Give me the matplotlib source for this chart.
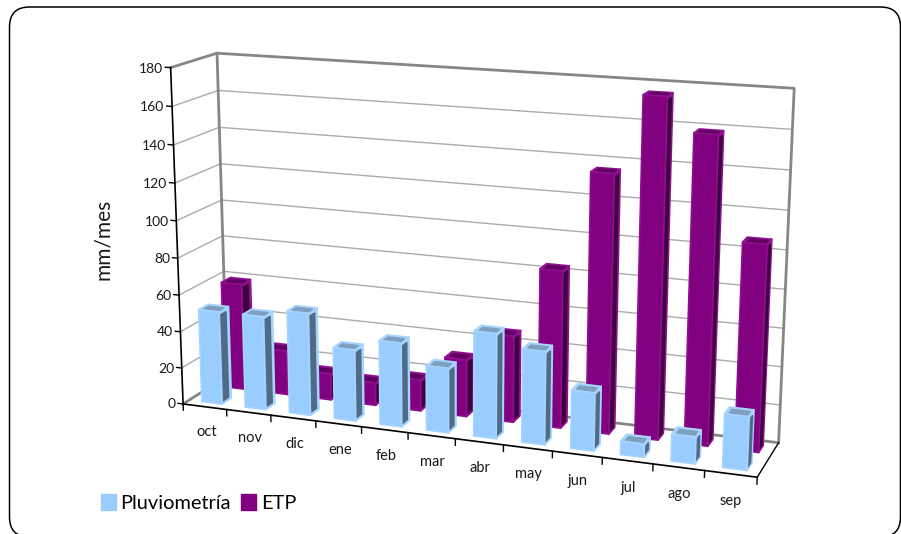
import matplotlib
matplotlib.use('Agg')
import matplotlib.pyplot as plt
from matplotlib.patches import FancyBboxPatch, Patch
from matplotlib.transforms import IdentityTransform
from mpl_toolkits.mplot3d import proj3d
from mpl_toolkits.mplot3d.art3d import Poly3DCollection

meses = ['oct', 'nov', 'dic', 'ene', 'feb', 'mar', 'abr', 'may', 'jun', 'jul', 'ago', 'sep']
pluviometria = [51, 51, 55.5, 38.5, 45, 34.5, 55.5, 49, 30.5, 7, 14, 27.5]
etp = [59, 24.5, 14.5, 12.5, 17, 31, 46.5, 83.5, 135.5, 175.5, 158.5, 106.5]
yticks = list(range(0, 181, 20))

W, H = 901, 534
plt.rcParams['font.family'] = ['Lato', 'DejaVu Sans']

fig = plt.figure(figsize=(W / 100, H / 100), dpi=100, facecolor='white')

# camera for the 3d column look
s, cx, cy = 693.76, 463.67, 263.56
ax = fig.add_axes([(cx - s / 2) / W, (H - cy - s / 2) / H, s / W, s / H], projection='3d')
ax.computed_zorder = False
ax.set_axis_off()
ax.set_xlim(0, 12, view_margin=0)
ax.set_ylim(0, 1, view_margin=0)
ax.set_zlim(0, 180, view_margin=0)
ax.view_init(14.6146, -70.0074, -0.1289)
ax.set_proj_type('persp', focal_length=0.5227)
ax.set_box_aspect((1.714, 0.2835, 1))

GRID = '#ababab'
WALL = '#868686'


def line(xs, ys, zs, color, lw, z):
    ax.plot(xs, ys, zs, color=color, lw=lw, zorder=z, solid_capstyle='projecting')


def label(x, y, z, text, **kw):
    # text sits at the projected 3d point but stays a plain 2d artist
    px, py, _ = proj3d.proj_transform(x, y, z, ax.get_proj())
    ax.text2D(px, py, text, transform=ax.transData, color='#1a1a1a', **kw)


# gridlines on the side wall and back wall
for v in yticks[1:-1]:
    line([0, 0, 12], [0, 1, 1], [v, v, v], GRID, 1, 1)

# wall and floor frame
line([0, 0, 12, 12], [0, 1, 1, 1], [180, 180, 180, 0], WALL, 2, 2)
line([0, 0], [1, 1], [0, 180], WALL, 2, 2)
line([0, 0, 12], [0, 1, 1], [0, 0, 0], WALL, 2, 2)
line([12, 12], [0, 1], [0, 0], 'black', 1, 2)

# axis lines, ticks and tick labels
line([0, 0], [0, 0], [0, 180], 'black', 1.2, 3)
line([0, 12], [0, 0], [0, 0], 'black', 1.2, 3)
for v in yticks:
    line([-0.12, 0], [0, 0], [v, v], 'black', 1, 3)
    label(-0.17, 0, v - 0.8, str(v), ha='right', va='center', fontsize=10)
for i in range(13):
    line([i, i], [0, 0], [0, -3.5], 'black', 1, 3)
for i, mes in enumerate(meses):
    label(i + 0.52, 0, -14, mes, ha='center', va='center', fontsize=10.5)


def face(verts, color, z, edge=None):
    ax.add_collection3d(Poly3DCollection([verts], facecolors=color,
                                         edgecolors=edge if edge else color,
                                         linewidths=1.2, zorder=z))


def column(i, v, y0, y1, front, rim, dark, top_dark, z):
    x0, x1 = i + 0.5 - 0.235, i + 0.5 + 0.235
    d = y1 - y0
    w = x1 - x0
    face([(x1, y0, 0), (x1, y1, 0), (x1, y1, v), (x1, y0, v)], rim, z)
    face([(x0, y0, v), (x1, y0, v), (x1, y1, v), (x0, y1, v)], rim, z + 0.1)
    # darker inset panels on the side and top
    if v > 6:
        face([(x1, y0 + 0.12 * d, 1.5), (x1, y1 - 0.3 * d, 1.5),
              (x1, y1 - 0.3 * d, v - 2), (x1, y0 + 0.12 * d, v - 2)], dark, z + 0.2)
    face([(x0 + 0.16 * w, y0 + 0.2 * d, v), (x1 - 0.1 * w, y0 + 0.2 * d, v),
          (x1 - 0.1 * w, y1 - 0.3 * d, v), (x0 + 0.16 * w, y1 - 0.3 * d, v)], top_dark, z + 0.3)
    face([(x0, y0, 0), (x1, y0, 0), (x1, y0, v), (x0, y0, v)], front, z + 0.4, rim)


# back row first, then the front row, left to right
for i, v in enumerate(etp):
    column(i, v, 0.67, 0.88, '#800080', '#8f108f', '#3f003f', '#600060', 10 + i)
for i, v in enumerate(pluviometria):
    column(i, v, 0.15, 0.36, '#99ccff', '#a6d4ff', '#4f6b88', '#7f9fc0', 30 + i)

fig.text(103 / W, 1 - 239 / H, 'mm/mes', rotation=90, ha='center', va='center', fontsize=15, color='#1a1a1a')

handles = [Patch(facecolor='#99ccff', edgecolor='#99ccff'), Patch(facecolor='#800080', edgecolor='#800080')]
fig.legend(handles, ['Pluviometría', 'ETP'], ncol=2, frameon=False, fontsize=14.4,
           loc='center left', bbox_to_anchor=(90.5 / W, 1 - 503 / H),
           handlelength=0.75, handleheight=0.8, handletextpad=0.25, columnspacing=0.5, borderpad=0)

# rounded chart border, running off the bottom and right of the image
box = FancyBboxPatch((29.5, 17), 851, 490, boxstyle='round,pad=20,rounding_size=20',
                     transform=IdentityTransform(), facecolor='none', edgecolor='black', lw=1.1, zorder=50)
fig.add_artist(box)

fig.savefig('out.png', dpi=100)
